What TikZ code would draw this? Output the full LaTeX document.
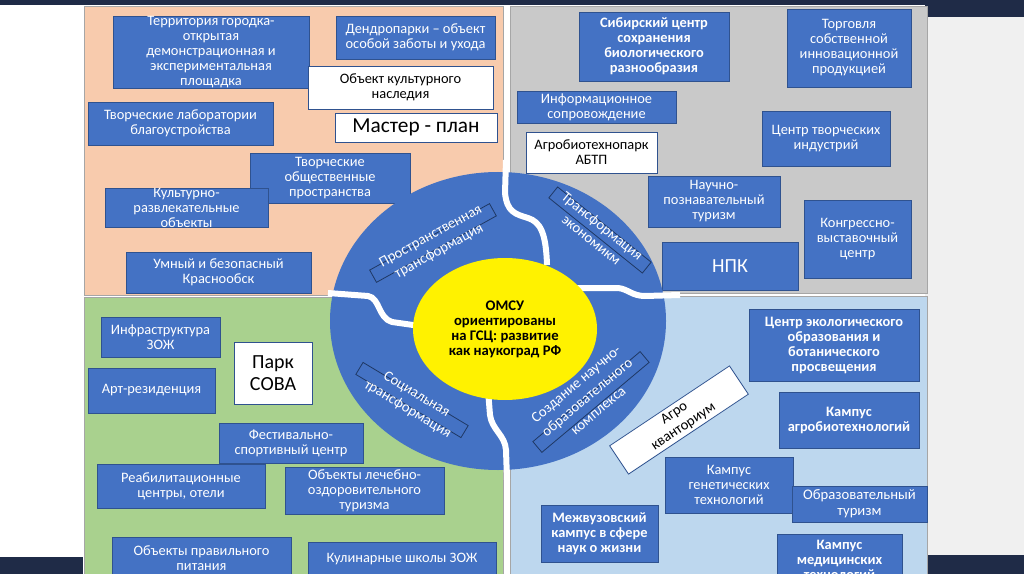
\documentclass[tikz,border=0pt]{standalone}
\usepackage{fontspec}
\setmainfont{Carlito}
\usetikzlibrary{shapes.geometric}
\definecolor{peach}{HTML}{F8CBAD}
\definecolor{qgray}{HTML}{C9C9C9}
\definecolor{qgreen}{HTML}{A9D18E}
\definecolor{qblue}{HTML}{BDD7EE}
\definecolor{bblue}{HTML}{4472C4}
\definecolor{bedge}{HTML}{2F528F}
\definecolor{navy}{HTML}{1F2B47}
\definecolor{lgray}{HTML}{F0F0F0}
\definecolor{qedge}{HTML}{A6A6A6}
\definecolor{ringedge}{HTML}{1F3864}
\tikzset{
  bbox/.style={draw=bedge, fill=bblue, text=white, line width=0.6pt, align=center, font=\fontsize{10.8}{11.25}\selectfont},
  bbold/.style={bbox, font=\fontsize{10.8}{11.25}\selectfont\bfseries},
  wbox/.style={draw=bedge, fill=white, text=black, line width=0.6pt, align=center, font=\fontsize{10.8}{11.25}\selectfont},
  ringbox/.style={draw=ringedge, line width=0.6pt, minimum height=10.5pt, inner sep=0pt},
  ringtxt/.style={text=white, align=center, inner sep=0pt, font=\fontsize{11}{13}\selectfont},
  sep/.style={draw=white, line width=4.5pt},
}
\newcommand\bx[7][bbox]{%
  \path[#1] (#3,#4) rectangle (#5,#6);
  \node[#1, draw=none, fill=none, inner sep=0pt] (#2) at ({(#3+#5)/2},{(#4+#6)/2}) {#7};}
\begin{document}
\begin{tikzpicture}[x=0.75pt,y=-0.75pt]
\clip (0,0) rectangle (1024,574);
% background
\fill[white] (0,0) rectangle (1024,574);
\fill[lgray] (925,0) rectangle (1024,574);
\fill[navy] (0,0) rectangle (925,5);
\fill[navy] (925,0) rectangle (1024,17);
\fill[navy] (925,555) rectangle (1024,574);
\fill[navy] (0,557) rectangle (83,574);
% quadrants
\filldraw[fill=peach, draw=qedge] (84,6) rectangle (503,295);
\filldraw[fill=qgray, draw=qedge] (510,6) rectangle (927,293);
\filldraw[fill=qgreen, draw=qedge] (84,297) rectangle (503,578);
\filldraw[fill=qblue, draw=qedge] (510,296) rectangle (927,578);
% top-left
\bx{terr}{113}{16}{309}{88}{Территория городка-\\открытая\\демонстрационная и\\экспериментальная\\площадка}
\bx{dendro}{336}{16}{495}{59}{Дендропарки – объект\\особой заботы и ухода}
\bx[wbox]{okn}{308}{66}{493}{109}{Объект культурного\\наследия}
\bx[wbox,font=\fontsize{16}{18}\selectfont]{master}{335}{113}{497}{142}{Мастер - план}
\bx{tlab}{88}{102}{273}{145}{Творческие лаборатории\\благоустройства}
\bx{tobsh}{250}{153}{410}{203}{Творческие\\общественные\\пространства}
\bx{kult}{105}{188}{268}{227}{Культурно-\\развлекательные\\объекты}
\bx{umn}{126}{252}{311}{293}{Умный и безопасный\\Краснообск}
% top-right
\bx[bbold]{sib}{579}{12}{729}{81}{Сибирский центр\\сохранения\\биологического\\разнообразия}
\bx{torg}{787}{9}{911}{87}{Торговля\\собственной\\инновационной\\продукцией}
\bx{info}{517}{91}{676}{123}{Информационное\\сопровождение}
\bx[wbox]{abtp}{526}{132}{657}{173}{Агробиотехнопарк\\АБТП}
\bx{ctind}{762}{111}{890}{166}{Центр творческих\\индустрий}
\bx{nauch}{648}{176}{780}{227}{Научно-\\познавательный\\туризм}
\bx[bbox,font=\fontsize{15}{17}\selectfont]{npk}{662}{242}{798}{290}{НПК}
\bx{kongr}{804}{200}{911}{278}{Конгрессно-\\выставочный\\центр}
% bottom-left
\bx{infra}{101}{317}{220}{357}{Инфраструктура\\ЗОЖ}
\bx{art}{88}{368}{215}{413}{Арт-резиденция}
\bx[wbox,font=\fontsize{15}{16}\selectfont]{park}{234}{342}{312}{404}{Парк\\СОВА}
\bx{fest}{219}{423}{363}{463}{Фестивально-\\спортивный центр}
\bx{reab}{97}{464}{265}{508}{Реабилитационные\\центры, отели}
\bx{lech}{285}{467}{444}{514}{Объекты лечебно-\\оздоровительного\\туризма}
\bx{pit}{112}{537}{291}{579}{Объекты правильного\\питания}
\bx{kulin}{308}{542}{496}{575}{Кулинарные школы ЗОЖ}
% bottom-right
\bx[bbold]{ekol}{749}{309}{919}{381}{Центр экологического\\образования и\\ботанического\\просвещения}
\bx[bbold]{agrob}{779}{392}{919}{448}{Кампус\\агробиотехнологий}
\bx{genet}{665}{457}{793}{513}{Кампус\\генетических\\технологий}
\bx[bbox,font=\fontsize{11}{12}\selectfont]{obrt}{792}{486}{927}{522}{Образовательный\\туризм}
\bx[bbold]{mezh}{541}{505}{658}{562}{Межвузовский\\кампус в сфере\\наук о жизни}
\bx[bbold]{med}{777}{534}{902}{586}{Кампус\\медицинских\\технологий}
% ring
\fill[bblue] (498,321) ellipse [x radius=126pt, y radius=111.75pt];
\draw[sep] (506,160) -- (505,193) .. controls (507,212) and (515,214) .. (528,218) .. controls (540,222) and (546,232) .. (547,265);
\draw[sep] (575,288) -- (618,288) .. controls (628,289) and (632,296) .. (645,296) -- (680,295);
\draw[sep] (328,293) -- (368,296) .. controls (380,298) and (378,318) .. (392,322) -- (420,326);
\draw[sep] (488,390) -- (490,415) .. controls (492,430) and (505,435) .. (506,450) -- (507,480);
\node[ellipse, fill=yellow, minimum width=138pt, minimum height=106.5pt, inner sep=0pt, align=center, font=\fontsize{11}{11.25}\selectfont\bfseries] (core) at (505,329) {ОМСУ\\ориентированы\\на ГСЦ: развитие\\как наукоград РФ};
% ring labels
\node[ringbox, rotate=29, minimum width=102.75pt] (rA) at (433,243) {};
\node[ringtxt, rotate=29] (tA) at (435,244) {Пространственная\\трансформация};
\node[ringbox, rotate=-38.8, minimum width=90pt] (rB) at (600,230) {};
\node[ringtxt, rotate=-38.8] (tB) at (597,233) {Трансформация\\экономикм};
\node[ringbox, rotate=-31, minimum width=92pt] (rC) at (412,400) {};
\node[ringtxt, rotate=-31] (tC) at (412,402) {Социальная\\трансформация};
\node[ringbox, rotate=40, minimum width=105pt] (rD) at (591,402) {};
\node[ringtxt, rotate=40] (tD) at (587,397) {Создание научно-\\образовательного\\комплекса};
% agro
\node[wbox, rotate=33.7, minimum width=108pt, minimum height=25.5pt, inner sep=0pt, font=\fontsize{11}{12.5}\selectfont] (agro) at (679,420) {Агро\\кванториум};
\end{tikzpicture}
\end{document}
